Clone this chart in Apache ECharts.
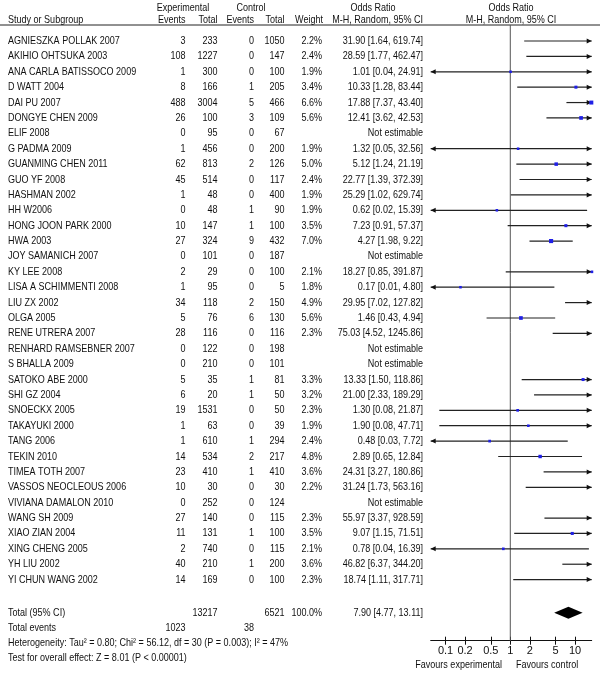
<!DOCTYPE html>
<html>
<head>
<meta charset="utf-8">
<script src="https://cdn.jsdelivr.net/npm/echarts@6/dist/echarts.min.js"></script>
<style>html,body{margin:0;padding:0;background:#fff}#c{width:600px;height:673px}</style>
</head>
<body>
<div id="c"></div>
<script>
const studies = ["AGNIESZKA POLLAK 2007","AKIHIO OHTSUKA 2003","ANA CARLA BATISSOCO 2009","D WATT 2004","DAI PU 2007","DONGYE CHEN 2009","ELIF 2008","G PADMA 2009","GUANMING CHEN 2011","GUO YF 2008","HASHMAN 2002","HH W2006","HONG JOON PARK 2000","HWA 2003","JOY SAMANICH 2007","KY LEE 2008","LISA A SCHIMMENTI 2008","LIU ZX 2002","OLGA 2005","RENE UTRERA 2007","RENHARD RAMSEBNER 2007","S BHALLA 2009","SATOKO ABE 2000","SHI GZ 2004","SNOECKX 2005","TAKAYUKI 2000","TANG 2006","TEKIN 2010","TIMEA TOTH 2007","VASSOS NEOCLEOUS 2006","VIVIANA DAMALON 2010","WANG SH 2009","XIAO ZIAN 2004","XING CHENG 2005","YH LIU 2002","YI CHUN WANG 2002"];
const expEvents  = [3,108,1,8,488,26,0,1,62,45,1,0,10,27,0,2,1,34,5,28,0,0,5,6,19,1,1,14,23,10,0,27,11,2,40,14];
const expTotal   = [233,1227,300,166,3004,100,95,456,813,514,48,48,147,324,101,29,95,118,76,116,122,210,35,20,1531,63,610,534,410,30,252,140,131,740,210,169];
const ctrlEvents = [0,0,0,1,5,3,0,0,2,0,0,1,1,9,0,0,0,2,6,0,0,0,1,1,0,0,1,2,1,0,0,0,1,0,1,0];
const ctrlTotal  = [1050,147,100,205,466,109,67,200,126,117,400,90,100,432,187,100,5,150,130,116,198,101,81,50,50,39,294,217,410,30,124,115,100,115,200,100];
const weights    = [2.2,2.4,1.9,3.4,6.6,5.6,null,1.9,5.0,2.4,1.9,1.9,3.5,7.0,null,2.1,1.8,4.9,5.6,2.3,null,null,3.3,3.2,2.3,1.9,2.4,4.8,3.6,2.2,null,2.3,3.5,2.1,3.6,2.3];
const oddsRatio  = [31.90,28.59,1.01,10.33,17.88,12.41,null,1.32,5.12,22.77,25.29,0.62,7.23,4.27,null,18.27,0.17,29.95,1.46,75.03,null,null,13.33,21.00,1.30,1.90,0.48,2.89,24.31,31.24,null,55.97,9.07,0.78,46.82,18.74];
const ciLow      = [1.64,1.77,0.04,1.28,7.37,3.62,null,0.05,1.24,1.39,1.02,0.02,0.91,1.98,null,0.85,0.01,7.02,0.43,4.52,null,null,1.50,2.33,0.08,0.08,0.03,0.65,3.27,1.73,null,3.37,1.15,0.04,6.37,1.11];
const ciHigh     = [619.74,462.47,24.91,83.44,43.40,42.53,null,32.56,21.19,372.39,629.74,15.39,57.37,9.22,null,391.87,4.80,127.82,4.94,1245.86,null,null,118.86,189.29,21.87,47.71,7.72,12.84,180.86,563.16,null,928.59,71.51,16.39,344.20,317.71];

const totalExp = 13217, totalCtrl = 6521, totalWeight = 100.0;
const pooledOR = 7.90, pooledLow = 4.77, pooledHigh = 13.11;
const totalEventsExp = 1023, totalEventsCtrl = 38;
const heterogeneityText = "Heterogeneity: Tau\u00b2 = 0.80; Chi\u00b2 = 56.12, df = 30 (P = 0.003); I\u00b2 = 47%";
const overallText = "Test for overall effect: Z = 8.01 (P < 0.00001)";
const xTicks = [0.1, 0.2, 0.5, 1, 2, 5, 10];

// layout
const FONT_FAMILY = '"Liberation Sans",Arial,sans-serif';
const FONT = '11px ' + FONT_FAMILY;
const SX = 0.82;
const TXT = '#111';
const COL = {name: 8, expEv: 185.5, expTot: 217.5, ctlEv: 254, ctlTot: 284.5, weight: 322, orText: 423};
const ROW_TOTAL = 37.15, ROW_EVENTS = 38.12, ROW_HET = 39.1, ROW_TEST = 40.08;

function fmt2(v){ return v.toFixed(2); }
function orString(i){
  if (oddsRatio[i] == null) return 'Not estimable';
  return fmt2(oddsRatio[i]) + ' [' + fmt2(ciLow[i]) + ', ' + fmt2(ciHigh[i]) + ']';
}
function txt(x, y, s, align){
  return {type:'text', x:x, y:y, scaleX:SX, silent:true, style:{text:s, fill:TXT, font:FONT, align:align||'left', verticalAlign:'middle'}};
}
function gtxt(x, y, s, align){
  return {type:'text', x:x, y:y, scaleX:SX, silent:true, style:{text:s, fill:TXT, font:FONT, align:align||'left', verticalAlign:'middle'}};
}

const tableData = studies.map((s, i) => [0, i, i]);
const ciData = [];
studies.forEach((s, i) => {
  if (oddsRatio[i] != null) ciData.push([Math.log10(oddsRatio[i]), i, Math.log10(ciLow[i]), Math.log10(ciHigh[i]), weights[i]]);
});

const chart = echarts.init(document.getElementById('c'), null, {renderer:'canvas'});
const option = {
  animation: false,
  backgroundColor: '#fff',
  grid: {left: 430.7, right: 8.3, top: 25, bottom: 32.3, outerBoundsMode: 'none', containLabel: false},
  xAxis: [{
    type: 'value', min: -1.23, max: 1.258, position: 'bottom',
    splitLine: {show:false},
    axisLine: {show:true, onZero:false, lineStyle:{color:'#111', width:1}},
    axisTick: {show:true, inside:false, length:4, customValues: xTicks.map(v => Math.log10(v)), lineStyle:{color:'#111'}},
    axisLabel: {show:true, customValues: xTicks.map(v => Math.log10(v)), margin: 5, color:'#111', fontSize:11, fontFamily: FONT_FAMILY,
      formatter: v => String(Number(Math.pow(10, v).toPrecision(3)))}
  }, {
    type: 'value', min: -1.23, max: 1.258, position: 'bottom',
    splitLine: {show:false},
    axisLine: {show:false, onZero:false},
    axisTick: {show:true, inside:true, length:4, customValues: xTicks.map(v => Math.log10(v)), lineStyle:{color:'#111'}},
    axisLabel: {show:false}
  }],
  yAxis: {type:'value', inverse:true, min:-1.04, max:38.97, show:false, splitLine:{show:false}},
  graphic: [
    {type:'line', shape:{x1:0, y1:25, x2:600, y2:25}, style:{stroke:'#222', lineWidth:1}},
    gtxt(183, 7.5, 'Experimental', 'center'),
    gtxt(251, 7.5, 'Control', 'center'),
    gtxt(373, 7.5, 'Odds Ratio', 'center'),
    gtxt(511, 7.5, 'Odds Ratio', 'center'),
    gtxt(COL.name, 19.5, 'Study or Subgroup', 'left'),
    gtxt(COL.expEv, 19.5, 'Events', 'right'),
    gtxt(COL.expTot, 19.5, 'Total', 'right'),
    gtxt(COL.ctlEv, 19.5, 'Events', 'right'),
    gtxt(COL.ctlTot, 19.5, 'Total', 'right'),
    gtxt(COL.weight + 1, 19.5, 'Weight', 'right'),
    gtxt(COL.orText, 19.5, 'M-H, Random, 95% CI', 'right'),
    gtxt(511, 19.5, 'M-H, Random, 95% CI', 'center'),
    gtxt(502, 664.5, 'Favours experimental', 'right'),
    gtxt(516, 664.5, 'Favours control', 'left')
  ],
  series: [
    {
      type:'custom', name:'ref', clip:false, silent:true,
      data:[[0, 0]],
      renderItem: (params, api) => {
        const cs = params.coordSys;
        const x = api.coord([0, 0])[0];
        return {type:'line', shape:{x1:x, y1:cs.y, x2:x, y2:cs.y+cs.height}, style:{stroke:'#555', lineWidth:1}};
      }
    },
    {
      type:'custom', name:'table', clip:false, silent:true,
      data: tableData,
      encode: {x:0, y:1},
      renderItem: (params, api) => {
        const i = api.value(2);
        const y = api.coord([0, api.value(1)])[1];
        return {type:'group', children:[
          txt(COL.name, y, studies[i], 'left'),
          txt(COL.expEv, y, String(expEvents[i]), 'right'),
          txt(COL.expTot, y, String(expTotal[i]), 'right'),
          txt(COL.ctlEv, y, String(ctrlEvents[i]), 'right'),
          txt(COL.ctlTot, y, String(ctrlTotal[i]), 'right'),
          txt(COL.weight, y, weights[i] == null ? '' : weights[i].toFixed(1) + '%', 'right'),
          txt(COL.orText, y, orString(i), 'right')
        ]};
      }
    },
    {
      type:'custom', name:'ci', clip:false, silent:true,
      data: ciData,
      encode: {x:0, y:1},
      renderItem: (params, api) => {
        const cs = params.coordSys;
        const xmin = cs.x, xmax = cs.x + cs.width;
        const r = api.value(1);
        const y = api.coord([0, r])[1];
        let x1 = api.coord([api.value(2), r])[0];
        let x2 = api.coord([api.value(3), r])[0];
        const xc = api.coord([api.value(0), r])[0];
        const w = api.value(4);
        const lclip = x1 < xmin, rclip = x2 > xmax;
        x1 = Math.max(x1, xmin); x2 = Math.min(x2, xmax);
        const ch = [{type:'line', shape:{x1:x1, y1:y, x2:x2, y2:y}, style:{stroke:'#222', lineWidth:1.2}}];
        if (rclip) ch.push({type:'polygon', shape:{points:[[xmax, y],[xmax-5, y-2.5],[xmax-5, y+2.5]]}, style:{fill:'#111'}});
        if (lclip) ch.push({type:'polygon', shape:{points:[[xmin, y],[xmin+5, y-2.5],[xmin+5, y+2.5]]}, style:{fill:'#111'}});
        if (xc >= xmin - 0.5 && xc <= xmax + 0.5) {
          const s = 2 + w * 0.3;
          ch.push({type:'rect', shape:{x:xc - s/2, y:y - s/2, width:s, height:s}, style:{fill:'#1f1fe6'}});
        }
        return {type:'group', children:ch};
      }
    },
    {
      type:'custom', name:'total', clip:false, silent:true,
      data: [[Math.log10(pooledOR), ROW_TOTAL, Math.log10(pooledLow), Math.log10(pooledHigh)]],
      encode: {x:0, y:1},
      renderItem: (params, api) => {
        const r = api.value(1);
        const y = api.coord([0, r])[1];
        const xl = api.coord([api.value(2), r])[0];
        const xc = api.coord([api.value(0), r])[0];
        const xr = api.coord([api.value(3), r])[0];
        const yE = api.coord([0, ROW_EVENTS])[1];
        const yH = api.coord([0, ROW_HET])[1];
        const yT = api.coord([0, ROW_TEST])[1];
        return {type:'group', children:[
          {type:'polygon', shape:{points:[[xl, y],[xc, y-6],[xr, y],[xc, y+6]]}, style:{fill:'#000'}},
          txt(COL.name, y, 'Total (95% CI)', 'left'),
          txt(COL.expTot, y, String(totalExp), 'right'),
          txt(COL.ctlTot, y, String(totalCtrl), 'right'),
          txt(COL.weight, y, totalWeight.toFixed(1) + '%', 'right'),
          txt(COL.orText, y, fmt2(pooledOR) + ' [' + fmt2(pooledLow) + ', ' + fmt2(pooledHigh) + ']', 'right'),
          txt(COL.name, yE, 'Total events', 'left'),
          txt(COL.expEv, yE, String(totalEventsExp), 'right'),
          txt(COL.ctlEv, yE, String(totalEventsCtrl), 'right'),
          txt(COL.name, yH, heterogeneityText, 'left'),
          txt(COL.name, yT, overallText, 'left')
        ]};
      }
    }
  ]
};
chart.setOption(option);
</script>
</body>
</html>
